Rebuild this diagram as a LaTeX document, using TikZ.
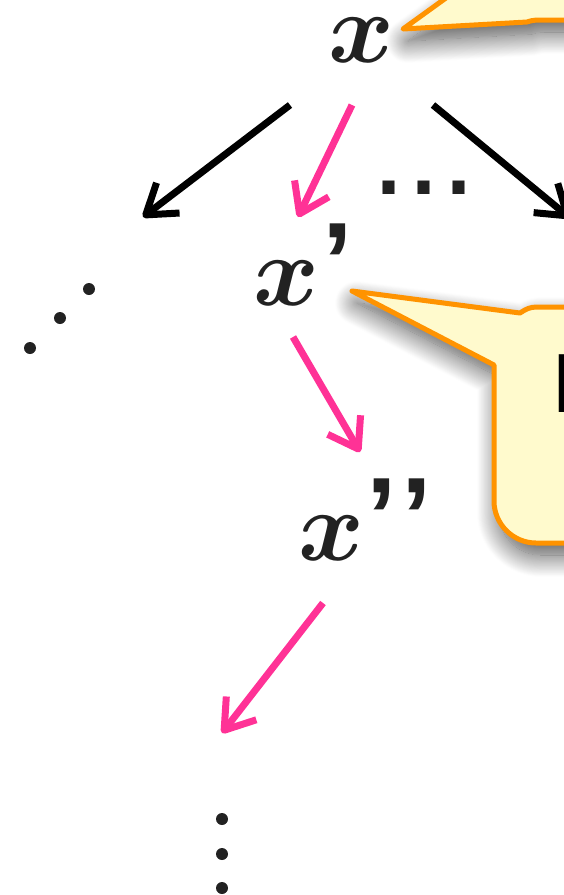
\documentclass[tikz,border=0pt]{standalone}
\usepackage{fontspec}
\usepackage{bm}
\usepackage{graphicx}
\newfontfamily\qfont{Liberation Sans}
\usetikzlibrary{arrows.meta,shadows.blur}
\definecolor{pinkc}{RGB}{255,50,150}
\definecolor{calfill}{RGB}{255,250,205}
\definecolor{calline}{RGB}{255,147,0}
\definecolor{inkc}{RGB}{34,34,34}
\newcommand{\qmark}{\raisebox{6pt}{\qfont\bfseries\fontsize{110}{110}\selectfont ’}}
\tikzset{
 arr/.style={line width=7pt, -{Straight Barb[length=28pt,width=38pt,line join=round]}},
 blk/.style={arr, black},
 pnk/.style={arr, pinkc},
 callout/.style={fill=calfill, draw=calline, line width=5pt, line join=round,
   blur shadow={shadow xshift=5pt, shadow yshift=-12pt, shadow blur radius=22pt, shadow blur steps=25, shadow opacity=70}},
 var/.style={inner sep=0pt, text=inkc, anchor=base west},
 dotc/.style={fill=inkc, circle, inner sep=0pt, minimum size=12pt},
 big/.style={font=\qfont\fontsize{126}{126}\selectfont},
}
\begin{document}
\begin{tikzpicture}[x=1pt,y=-1pt]
\useasboundingbox (0,0) rectangle (563,895);
% callouts
\path[callout] (403,29) -- (500,-41) -- (500,-300) -- (800,-300) -- (800,20) -- (540,20) .. controls (533,20) and (530,21) .. (527,22) -- cycle;
\path[callout] (352,291) -- (520,313) .. controls (526,309) and (530,307) .. (537,307) -- (800,307) -- (800,543) -- (536,543) .. controls (513,543) and (494,524) .. (494,501) -- (494,365) -- cycle;
\node[var, text=black] (lbl) at (551,412) {\qfont\fontsize{84}{84}\selectfont I};
% variables
\node[var] (x0) at (328,62) {\scalebox{10}{$\bm{x}$}};
\node[var] (x1) at (253,305) {\scalebox{10}{$\bm{x}$}\kern 3pt\qmark};
\node[var] (x2) at (298,560) {\scalebox{10}{$\bm{x}$}\kern 2pt\qmark\kern 5pt\qmark};
\node[var, big] (dots) at (371,194) {...};
% arrows
\coordinate (a1s) at (290,105); \coordinate (a1e) at (143,217);
\coordinate (p1s) at (352,105); \coordinate (p1e) at (298,217);
\coordinate (a2s) at (433,105); \coordinate (a2e) at (570,218);
\coordinate (p2s) at (293,337); \coordinate (p2e) at (360,452);
\coordinate (p3s) at (323,603); \coordinate (p3e) at (222,733);
\draw[blk] (a1s) -- (a1e);
\draw[blk] (a2s) -- (a2e);
\draw[pnk] (p1s) -- (p1e);
\draw[pnk] (p2s) -- (p2e);
\draw[pnk] (p3s) -- (p3e);
% dots
\node[dotc] (d1) at (30,348) {};
\node[dotc] (d2) at (60,318) {};
\node[dotc] (d3) at (89,289) {};
\node[dotc] (v1) at (222,819) {};
\node[dotc] (v2) at (222,854) {};
\node[dotc] (v3) at (222,888) {};
\end{tikzpicture}
\end{document}
